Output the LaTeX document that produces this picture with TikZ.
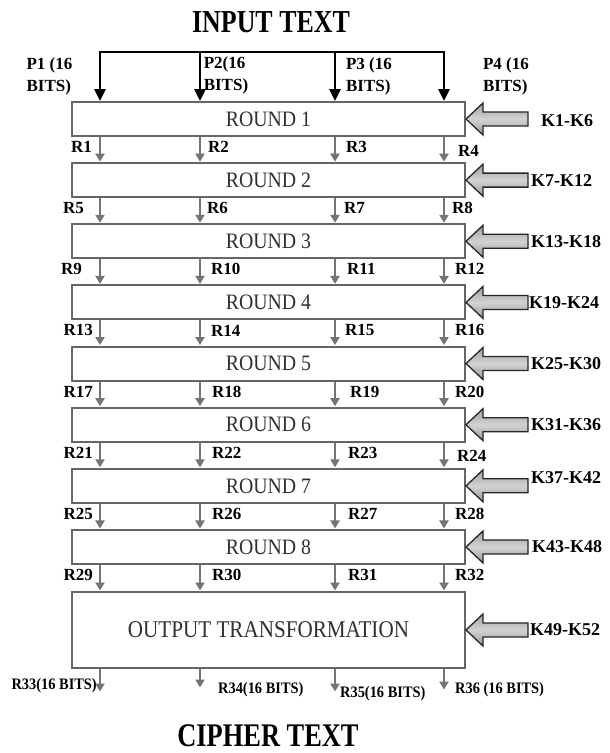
\documentclass[tikz,border=0pt]{standalone}
\usepackage{fontspec}
\setmainfont{Liberation Serif}
\usepackage{graphicx}
\usetikzlibrary{arrows.meta,calc}
\definecolor{boxgray}{HTML}{666666}
\definecolor{arrgray}{HTML}{747474}
\definecolor{txtgray}{HTML}{303030}
\newcommand\hsq[2]{\scalebox{#1}[1]{#2}}
\begin{document}
\begin{tikzpicture}[x=1pt,y=-1pt,
  roundbox/.style={draw=boxgray, line width=2pt, fill=white, minimum width=393pt,
    minimum height=34pt, inner sep=0pt, text=txtgray},
  gridarrow/.style={draw=arrgray, line width=2pt, -{Triangle[width=9pt,length=8pt]}, shorten >=0.5pt},
  bk/.style={draw=black, line width=2.8pt, line join=miter},
  lab/.style={font=\bfseries\fontsize{17}{17}\selectfont, inner sep=0pt},
  plab/.style={font=\bfseries\fontsize{17}{22}\selectfont, inner sep=0pt, align=left},
  blab/.style={font=\bfseries\fontsize{16}{16}\selectfont, inner sep=0pt},
  klab/.style={font=\bfseries\fontsize{18}{18}\selectfont, inner sep=0pt, anchor=west},
  keyarrow/.style={draw=black!85, line width=1.3pt, line join=miter,
    top color=gray!75, bottom color=gray!80, middle color=gray!35},
  title/.style={font=\bfseries, inner sep=0pt}
]
\useasboundingbox (0,0) rectangle (610,753);
\fill[white] (0,0) rectangle (610,753);

% titles
\node[title] (intext) at (271,22.5) {\hsq{0.81}{\fontsize{32}{32}\selectfont INPUT TEXT}};
\node[title] (ciphertext) at (268,736) {\hsq{0.8}{\fontsize{33}{33}\selectfont CIPHER TEXT}};

% round boxes
\foreach \i in {1,...,8}
  \node[roundbox] (r\i) at (268.5,{119+61.14*(\i-1)})
    {\hsq{0.9}{\fontsize{22}{22}\selectfont ROUND \i}};
\node[roundbox, minimum height=76pt] (out) at (268.5,630)
    {\hsq{0.88}{\fontsize{24}{24}\selectfont OUTPUT TRANSFORMATION}};

% column coordinates
\coordinate (t1) at (100,52);
\coordinate (t2) at (200,52);
\coordinate (t3) at (335,52);
\coordinate (t4) at (444,52);

% input bracket
\draw[bk, {Triangle[width=11pt,length=12pt]}-{Triangle[width=11pt,length=12pt]}]
  (r1.north -| t1) -- (t1) -- (t4) -- (r1.north -| t4);
\draw[bk, -{Triangle[width=11pt,length=12pt]}] (t2) -- (r1.north -| t2);
\draw[bk, -{Triangle[width=11pt,length=12pt]}] (t3) -- (r1.north -| t3);

% P labels
\node[plab] (p1) at (49.5,76) {P1 (16\\BITS)};
\node[plab] (p2) at (226,75) {P2(16\\BITS)};
\node[plab] (p3) at (369,76) {P3 (16\\BITS)};
\node[plab] (p4) at (506,76) {P4 (16\\BITS)};

% arrows between rounds
\foreach \i [evaluate=\i as \j using int(\i+1)] in {1,...,7}
  \foreach \c in {1,...,4}
    \draw[gridarrow] (r\i.south -| t\c) -- (r\j.north -| t\c);
\foreach \c in {1,...,4}
  \draw[gridarrow] (r8.south -| t\c) -- (out.north -| t\c);

% R labels
\foreach \n/\x/\row/\dy/\a in {
  1/92/1/0/east, 2/208/1/0/west, 3/346/1/0/west, 4/458/1/4/west,
  5/84/2/0/east, 6/207/2/0/west, 7/344/2/0/west, 8/452/2/0/west,
  9/82/3/0/east, 10/211/3/0/west, 11/347/3/0/west, 12/455/3/0/west,
  13/93/4/0/east, 14/211/4/0/west, 15/345/4/0/west, 16/455/4/0/west,
  17/93/5/0/east, 18/212/5/0/west, 19/350/5/0/west, 20/455/5/0/west,
  21/93/6/0/east, 22/212/6/0/west, 23/348/6/0/west, 24/457/6/3/west,
  25/93/7/0/east, 26/212/7/0/west, 27/348/7/0/west, 28/455/7/0/west,
  29/93/8/0/east, 30/212/8/0/west, 31/348/8/0/west, 32/455/8/0/west}
  \node[lab, anchor=\a] (l\n) at (\x,{147+61.14*(\row-1)+\dy}) {R\n};

% output arrows and labels
\coordinate (e1) at (100,692);
\coordinate (e2) at (200,688);
\coordinate (e3) at (335,692);
\coordinate (e4) at (444,690);
\foreach \c in {1,...,4}
  \draw[gridarrow] (out.south -| t\c) -- (e\c);
\node[blab, anchor=east] (o1) at (97,686) {\hsq{0.9}{R33(16 BITS)}};
\node[blab, anchor=west] (o2) at (218,690) {\hsq{0.9}{R34(16 BITS)}};
\node[blab, anchor=west] (o3) at (340,694) {\hsq{0.9}{R35(16 BITS)}};
\node[blab, anchor=west] (o4) at (455,690) {\hsq{0.9}{R36 (16 BITS)}};

% key arrows and labels
\foreach \b/\t/\x/\dy [count=\i] in {
  r1/K1-K6/540/2, r2/K7-K12/530/0, r3/K13-K18/530/0, r4/K19-K24/528/0,
  r5/K25-K30/530/0, r6/K31-K36/530/0, r7/K37-K42/530/-8, r8/K43-K48/531/0,
  out/K49-K52/529/0}
{
  \draw[keyarrow] (\b.east) -- ++(17,-16) -- ++(0,9) -- ++(45,0) -- ++(0,14)
     -- ++(-45,0) -- ++(0,9) -- cycle;
  \node[klab] (kl\i) at ($(\b.east)+({\x-465},\dy)$) {\t};
}
\end{tikzpicture}
\end{document}
